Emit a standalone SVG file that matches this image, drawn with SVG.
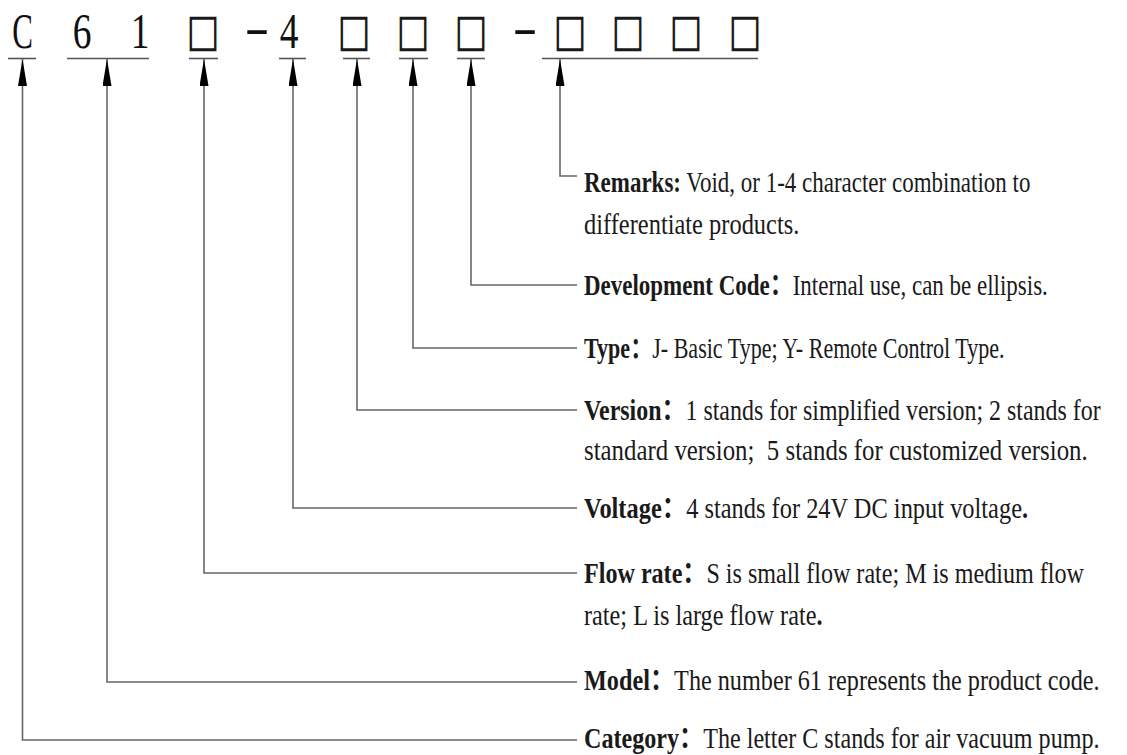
<svg xmlns="http://www.w3.org/2000/svg" width="1127" height="755" viewBox="0 0 1127 755">
<style>
.code{font-family:"Liberation Serif",serif;font-size:50px;fill:#111;text-anchor:middle}
.box{font-family:"Noto Sans CJK SC",sans-serif;font-size:32px;fill:#1a1a1a;stroke:#1a1a1a;stroke-width:1.1;text-anchor:middle}
.ul{stroke:#555;stroke-width:1.6;fill:none}
.conn{stroke:#666;stroke-width:1.6;fill:none}
.desc{font-family:"Liberation Serif","Noto Sans CJK SC",serif;font-size:29px;fill:#1a1a1a}
.b{font-weight:bold}
</style>
<defs>
<marker id="arr" viewBox="0 0 30 10" refX="30" refY="5" markerUnits="userSpaceOnUse" markerWidth="29" markerHeight="9" orient="auto-start-reverse">
<path d="M0,0 L30,5 L0,10 z" fill="#000"/>
</marker>
</defs>
<rect width="1127" height="755" fill="#fff"/>

<g id="code-C"><text class="code" transform="translate(22.5,48) scale(0.62,1)">C</text><line class="ul" x1="8" y1="58.5" x2="36" y2="58.5"/></g>
<g id="code-61"><text class="code" transform="translate(82,48) scale(0.75,1)">6</text><text class="code" transform="translate(140,48) scale(0.75,1)">1</text><line class="ul" x1="67" y1="58.5" x2="149" y2="58.5"/></g>
<g id="code-flow"><text class="box" transform="translate(203,49) scale(1,1.25)">□</text><line class="ul" x1="189" y1="58.5" x2="218" y2="58.5"/></g>
<g id="code-dash1"><text class="code" transform="translate(257,44) scale(1.5,1)">-</text></g>
<g id="code-4"><text class="code" transform="translate(289,48) scale(0.75,1)">4</text><line class="ul" x1="279" y1="58.5" x2="306" y2="58.5"/></g>
<g id="code-version"><text class="box" transform="translate(354,49) scale(1,1.25)">□</text><line class="ul" x1="343" y1="58.5" x2="370" y2="58.5"/></g>
<g id="code-type"><text class="box" transform="translate(413,49) scale(1,1.25)">□</text><line class="ul" x1="399" y1="58.5" x2="428" y2="58.5"/></g>
<g id="code-dev"><text class="box" transform="translate(471,49) scale(1,1.25)">□</text><line class="ul" x1="457" y1="58.5" x2="485" y2="58.5"/></g>
<g id="code-dash2"><text class="code" transform="translate(525,44) scale(1.5,1)">-</text></g>
<g id="code-remarks"><text class="box" transform="translate(570,49) scale(1,1.25)">□</text><text class="box" transform="translate(628,49) scale(1,1.25)">□</text><text class="box" transform="translate(686,49) scale(1,1.25)">□</text><text class="box" transform="translate(745,49) scale(1,1.25)">□</text><line class="ul" x1="542" y1="58.5" x2="758" y2="58.5"/></g>

<g id="connectors">
<path class="conn" marker-start="url(#arr)" d="M560,59 V176 H577"/>
<path class="conn" marker-start="url(#arr)" d="M471,59 V285 H577"/>
<path class="conn" marker-start="url(#arr)" d="M413,59 V348 H577"/>
<path class="conn" marker-start="url(#arr)" d="M357,59 V410 H577"/>
<path class="conn" marker-start="url(#arr)" d="M293,59 V508 H577"/>
<path class="conn" marker-start="url(#arr)" d="M204,59 V573 H577"/>
<path class="conn" marker-start="url(#arr)" d="M107,59 V682 H577"/>
<path class="conn" marker-start="url(#arr)" d="M22.5,59 V740 H577"/>
</g>

<g id="desc-remarks">
<text class="desc" transform="translate(584,192) scale(0.7925,1)"><tspan class="b">Remarks:</tspan> Void, or 1-4 character combination to</text>
<text class="desc" transform="translate(584,234) scale(0.843,1)">differentiate products.</text>
</g>
<g id="desc-dev">
<text class="desc" transform="translate(584,295) scale(0.7925,1)"><tspan class="b">Development Code：</tspan>Internal use, can be ellipsis.</text>
</g>
<g id="desc-type">
<text class="desc" transform="translate(584,358) scale(0.761,1)"><tspan class="b">Type：</tspan>J- Basic Type; Y- Remote Control Type.</text>
</g>
<g id="desc-version">
<text class="desc" transform="translate(584,420) scale(0.825,1)"><tspan class="b">Version：</tspan>1 stands for simplified version; 2 stands for</text>
<text class="desc" transform="translate(584,460) scale(0.857,1)" xml:space="preserve">standard version;  5 stands for customized version.</text>
</g>
<g id="desc-voltage">
<text class="desc" transform="translate(584,518) scale(0.842,1)"><tspan class="b">Voltage：</tspan>4 stands for 24V DC input voltage<tspan class="b">.</tspan></text>
</g>
<g id="desc-flow">
<text class="desc" transform="translate(584,583) scale(0.831,1)"><tspan class="b">Flow rate：</tspan>S is small flow rate; M is medium flow</text>
<text class="desc" transform="translate(584,625) scale(0.837,1)">rate; L is large flow rate<tspan class="b">.</tspan></text>
</g>
<g id="desc-model">
<text class="desc" transform="translate(584,690) scale(0.835,1)"><tspan class="b">Model：</tspan>The number 61 represents the product code.</text>
</g>
<g id="desc-category">
<text class="desc" transform="translate(584,748) scale(0.832,1)"><tspan class="b">Category：</tspan>The letter C stands for air vacuum pump.</text>
</g>
</svg>
